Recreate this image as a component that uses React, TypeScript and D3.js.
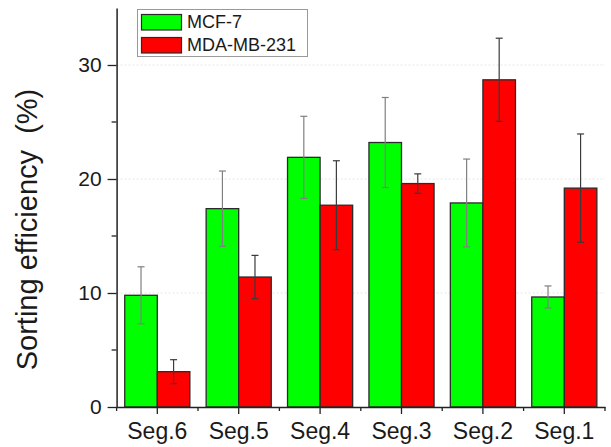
import React, { useEffect, useRef } from 'react';
import * as d3 from 'd3';

const categories = ['Seg.6', 'Seg.5', 'Seg.4', 'Seg.3', 'Seg.2', 'Seg.1'];
const seriesNames = ['MCF-7', 'MDA-MB-231'];
const mcf7 = [9.8, 17.4, 21.9, 23.2, 17.9, 9.65];
const mcf7Err = [2.5, 3.3, 3.6, 3.95, 3.85, 0.97];
const mda = [3.1, 11.4, 17.7, 19.6, 28.7, 19.2];
const mdaErr = [1.05, 1.9, 3.9, 0.85, 3.65, 4.75];
const yTicks = [0, 10, 20, 30];
const yMinorTicks = [5, 15, 25];

const colors = ['#00ff00', '#ff0000'];
const errColors = ['#808080', '#3a3a3a'];

const App = () => {
  const svgRef = useRef<SVGSVGElement>(null);
  const width = 611;
  const height = 447;
  const margin = { top: 8, right: 6, bottom: 40, left: 116.6 };

  useEffect(() => {
    const svg = d3.select(svgRef.current);
    svg.selectAll('*').remove();
    const font = '"Liberation Sans", Arial, sans-serif';

    const x0 = d3.scaleBand()
      .domain(categories)
      .range([margin.left, width - margin.right])
      .paddingInner(0.2)
      .paddingOuter(0.1);

    const x1 = d3.scaleBand()
      .domain(seriesNames)
      .range([0, x0.bandwidth()]);

    const y = d3.scaleLinear()
      .domain([0, 35])
      .range([height - margin.bottom, margin.top]);

    const series = [
      { name: seriesNames[0], values: mcf7, errs: mcf7Err },
      { name: seriesNames[1], values: mda, errs: mdaErr },
    ];

    // faint dotted grid
    svg.append('g')
      .selectAll('line')
      .data(yTicks.slice(1))
      .enter()
      .append('line')
      .attr('x1', margin.left)
      .attr('x2', width - margin.right)
      .attr('y1', d => y(d))
      .attr('y2', d => y(d))
      .attr('stroke', '#e6e6e6')
      .attr('stroke-dasharray', '2,2');

    // bars
    series.forEach((s, si) => {
      const g = svg.append('g');
      g.selectAll('rect')
        .data(categories)
        .enter()
        .append('rect')
        .attr('x', (c) => (x0(c) as number) + (x1(s.name) as number))
        .attr('y', (c, i) => y(s.values[i]))
        .attr('width', x1.bandwidth())
        .attr('height', (c, i) => y(0) - y(s.values[i]))
        .attr('fill', colors[si])
        .attr('stroke', '#2a2a2a')
        .attr('stroke-width', 1.3);

      // error bars
      categories.forEach((c, i) => {
        const cx = (x0(c) as number) + (x1(s.name) as number) + x1.bandwidth() / 2;
        const hi = y(s.values[i] + s.errs[i]);
        const lo = y(s.values[i] - s.errs[i]);
        const eg = svg.append('g').attr('stroke', errColors[si]).attr('stroke-width', 1.2);
        eg.append('line').attr('x1', cx).attr('x2', cx).attr('y1', hi).attr('y2', lo);
        eg.append('line').attr('x1', cx - 3.5).attr('x2', cx + 3.5).attr('y1', hi).attr('y2', hi);
        eg.append('line').attr('x1', cx - 3.5).attr('x2', cx + 3.5).attr('y1', lo).attr('y2', lo);
      });
    });

    // y axis
    const yAxis = svg.append('g')
      .attr('transform', `translate(${margin.left},0)`)
      .call(d3.axisLeft(y).tickValues(yTicks).tickSize(9).tickPadding(6).tickSizeOuter(0));
    yAxis.select('.domain').attr('stroke', '#222').attr('stroke-width', 1.5);
    yAxis.selectAll('.tick line').attr('stroke', '#222').attr('stroke-width', 1.3);
    yAxis.selectAll('text')
      .style('font-family', font)
      .style('font-size', '21px')
      .attr('fill', '#1a1a1a');
    svg.append('g')
      .selectAll('line')
      .data(yMinorTicks)
      .enter()
      .append('line')
      .attr('x1', margin.left - 5)
      .attr('x2', margin.left)
      .attr('y1', d => y(d))
      .attr('y2', d => y(d))
      .attr('stroke', '#222')
      .attr('stroke-width', 1.3);

    // x axis
    const xAxis = svg.append('g')
      .attr('transform', `translate(0,${y(0)})`)
      .call(d3.axisBottom(x0).tickSize(7).tickPadding(9).tickSizeOuter(0));
    xAxis.select('.domain').attr('stroke', '#222').attr('stroke-width', 1.5);
    xAxis.selectAll('.tick line').attr('stroke', '#222').attr('stroke-width', 1.3);
    xAxis.selectAll('text')
      .style('font-family', font)
      .style('font-size', '23px')
      .attr('fill', '#1a1a1a');

    // minor x ticks at group boundaries
    const step = x0.step();
    const bounds = d3.range(categories.length + 1).map(i => margin.left + i * step);
    svg.append('g')
      .selectAll('line')
      .data(bounds)
      .enter()
      .append('line')
      .attr('x1', d => d)
      .attr('x2', d => d)
      .attr('y1', y(0))
      .attr('y2', y(0) + 4)
      .attr('stroke', '#222')
      .attr('stroke-width', 1.3);

    // y label
    svg.append('text')
      .attr('transform', `translate(37,${(y(0) + y(35)) / 2 + 22}) rotate(-90)`)
      .attr('text-anchor', 'middle')
      .style('font-family', font)
      .style('font-size', '29px')
      .style('white-space', 'pre')
      .attr('fill', '#1a1a1a')
      .text('Sorting efficiency  (%)');

    // legend
    const legend = svg.append('g');
    legend.append('rect')
      .attr('x', 137.5)
      .attr('y', 9.5)
      .attr('width', 170)
      .attr('height', 47)
      .attr('fill', '#fff')
      .attr('stroke', '#999');
    seriesNames.forEach((n, i) => {
      legend.append('rect')
        .attr('x', 141.5)
        .attr('y', 14.5 + i * 23)
        .attr('width', 40)
        .attr('height', 15.5)
        .attr('fill', colors[i])
        .attr('stroke', '#2a2a2a')
        .attr('stroke-width', 1.2);
      legend.append('text')
        .attr('x', 187)
        .attr('y', 28 + i * 23)
        .style('font-family', font)
        .style('font-size', '18px')
        .attr('fill', '#1a1a1a')
        .text(n);
    });
  }, []);

  return (
    <svg
      ref={svgRef}
      width={width}
      height={height}
      style={{ position: 'absolute', left: 0, top: 0, background: '#fff' }}
    />
  );
};

export default App;
